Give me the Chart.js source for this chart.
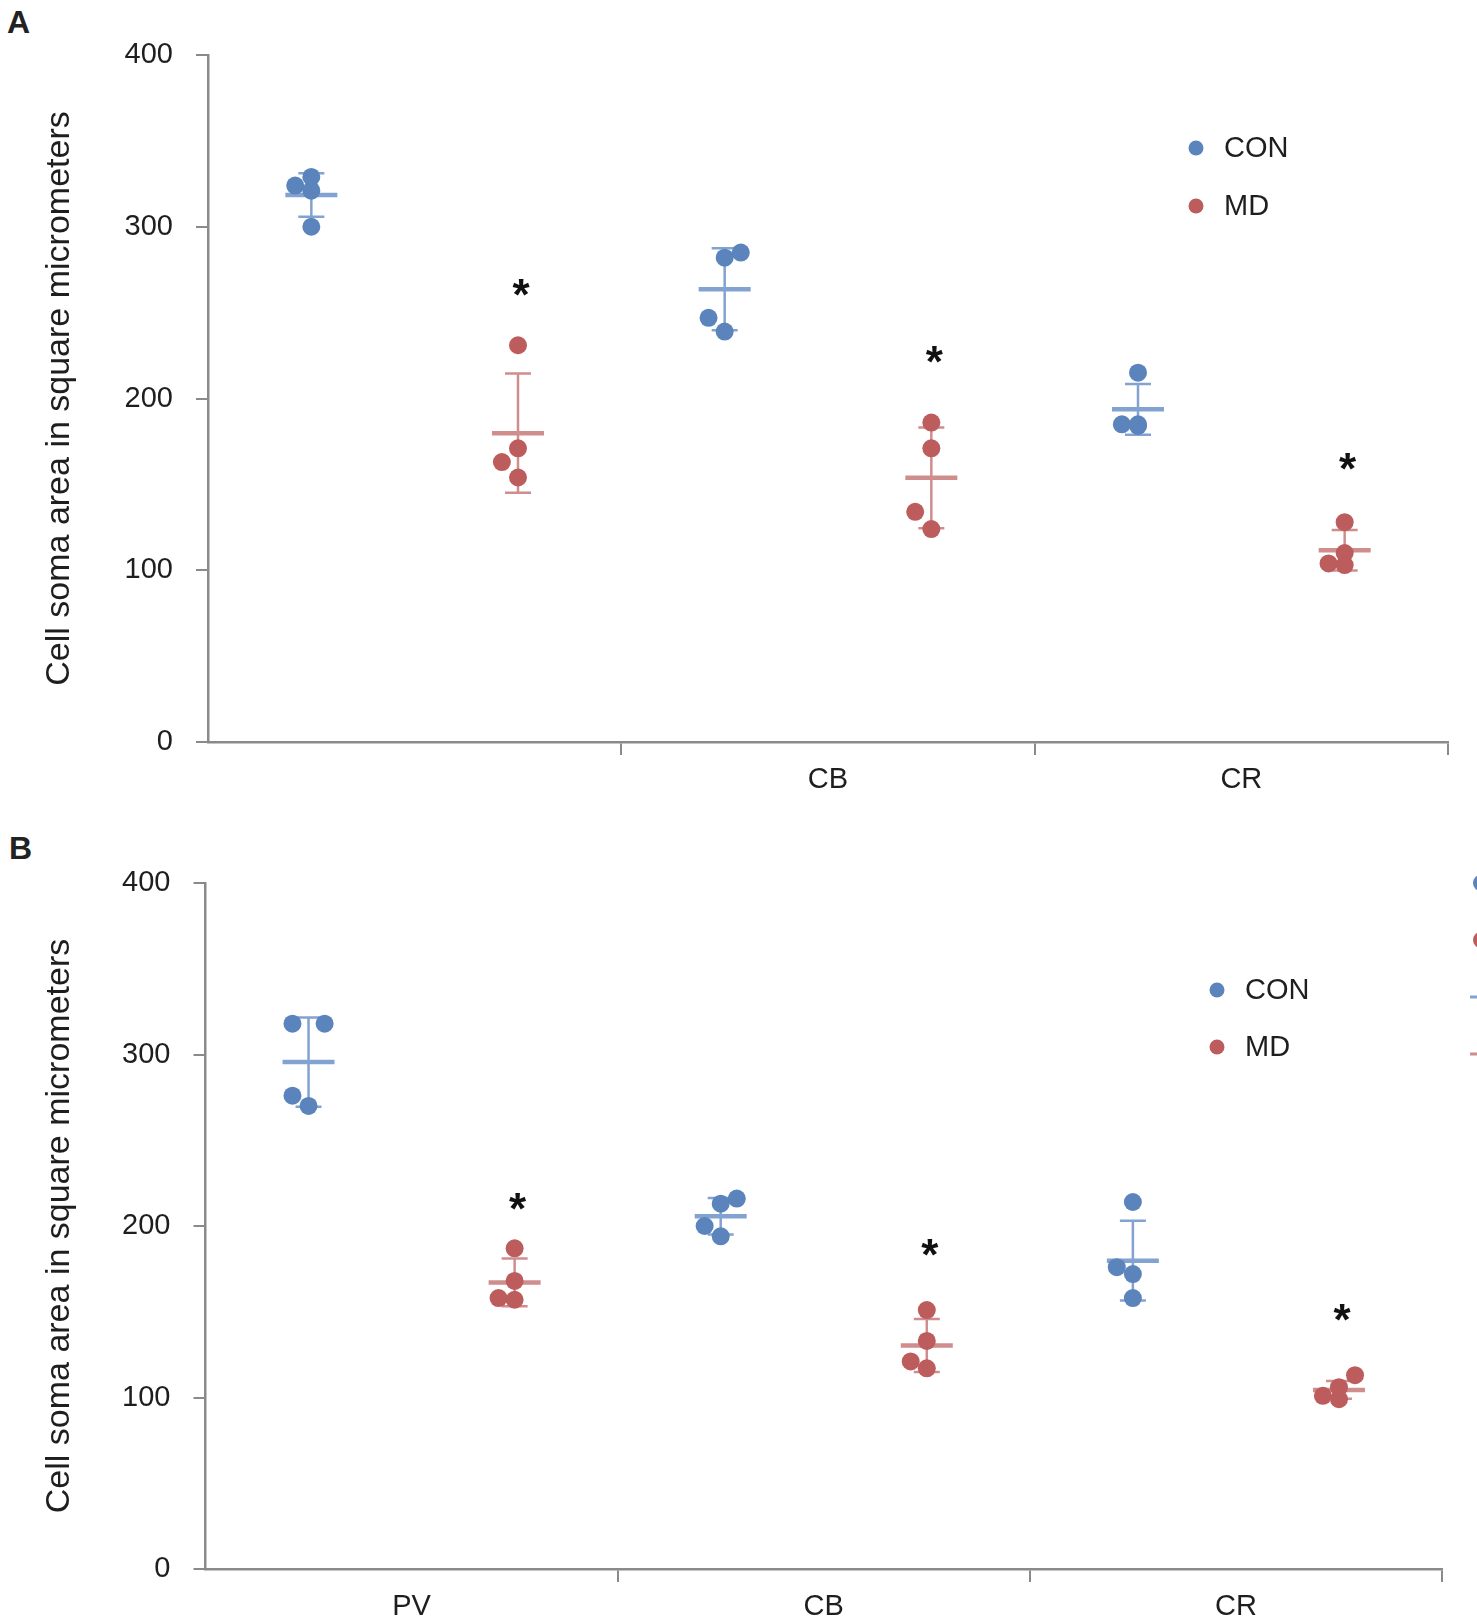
<!DOCTYPE html>
<html><head><meta charset="utf-8">
<script src="https://cdn.jsdelivr.net/npm/chart.js@4.4.1/dist/chart.umd.min.js"></script>
<style>
html,body{margin:0;padding:0;background:#fff}
body{width:1477px;height:1622px;position:relative;overflow:hidden}
.wrap{position:absolute;left:0;width:1477px}
.letter{position:absolute;font:bold 32px "Liberation Sans",Arial,sans-serif;line-height:1;color:#222}
</style></head>
<body>
<div class="letter" style="left:7px;top:6px">A</div>
<div class="letter" style="left:9px;top:832px">B</div>
<div class="wrap" style="top:0;height:800px"><canvas id="cA" width="1477" height="800"></canvas></div>
<div class="wrap" style="top:800px;height:822px"><canvas id="cB" width="1477" height="822"></canvas></div>
<script>
// ---------------- DATA ----------------
const seriesNames = ['CON', 'MD'];
const catA = ['', 'CB', 'CR'];
const catB = ['PV', 'CB', 'CR'];
const yTicks = [0, 100, 200, 300, 400];
const yTitle = 'Cell soma area in square micrometers';

// Panel A individual values (per category: PV, CB, CR)
const A_CON = [[324, 329, 321, 300], [247, 282, 285, 239], [215, 185, 185, 184]];
const A_MD  = [[231, 171, 163, 154], [186, 171, 134, 124], [128, 110, 104, 103]];
const A_CON_MEAN = [318.5, 263.6, 193.7];
const A_CON_SD   = [12.7, 23.9, 14.8];
const A_MD_MEAN  = [179.8, 153.8, 111.6];
const A_MD_SD    = [34.7, 29.3, 11.8];
const A_SIG      = [266, 227, 165];

// Panel B individual values
const B_CON = [[318, 318, 276, 270], [200, 213, 216, 194], [214, 176, 172, 158]];
const B_MD  = [[187, 168, 158, 157], [151, 133, 121, 117], [113, 106, 101, 99]];
const B_CON_MEAN = [295.6, 205.7, 179.8];
const B_CON_SD   = [26.0, 10.6, 23.2];
const B_MD_MEAN  = [167.1, 130.3, 104.4];
const B_MD_SD    = [13.9, 15.4, 5.2];
const B_SIG      = [216, 189, 151];

// ---------------- LAYOUT / STYLE (not data) ----------------
const A_CON_JIT = [[-1, 0, 0, 0], [-1, 0, 1, 0], [0, -1, 0, 0]];
const A_MD_JIT  = [[0, 0, -1, 0], [0, 0, -1, 0], [0, 0, -1, 0]];
const B_CON_JIT = [[-1, 1, -1, 0], [-1, 0, 1, 0], [0, -1, 0, 0]];
const B_MD_JIT  = [[0, 0, -1, 0], [0, 0, -1, 0], [1, 0, -1, 0]];
const JIT_STEP = 0.039;
const COL = { CON: '#5b84bc', MD: '#bd5c5c' };
const BAR = { CON: '#82a3d0', MD: '#d08d8d' };
const FONT = '"Liberation Sans", Arial, sans-serif';
const TXT = '#1e1e1e';
const AXIS = '#8a8a8a';

function pts(vals, jit, off) {
  const out = [];
  vals.forEach((g, i) => g.forEach((v, j) => out.push({ x: i + off + jit[i][j] * JIT_STEP, y: v })));
  return out;
}

const errPlugin = {
  id: 'errbars',
  beforeDatasetsDraw(chart) {
    const o = chart.options.plugins.errbars;
    const xs = chart.scales.x, ys = chart.scales.y, ctx = chart.ctx;
    ctx.save();
    o.groups.forEach(g => {
      g.mean.forEach((m, i) => {
        const px = xs.getPixelForValue(i + g.off);
        const pm = ys.getPixelForValue(m);
        const ph = ys.getPixelForValue(m + g.sd[i]);
        const pl = ys.getPixelForValue(m - g.sd[i]);
        ctx.strokeStyle = g.color;
        ctx.lineWidth = 2.5;
        ctx.beginPath();
        ctx.moveTo(px, ph); ctx.lineTo(px, pl);
        ctx.moveTo(px - 13, ph); ctx.lineTo(px + 13, ph);
        ctx.moveTo(px - 13, pl); ctx.lineTo(px + 13, pl);
        ctx.stroke();
        ctx.lineWidth = 4.5;
        ctx.beginPath();
        ctx.moveTo(px - 26, pm); ctx.lineTo(px + 26, pm);
        ctx.stroke();
      });
    });
    ctx.restore();
  },
  afterDatasetsDraw(chart) {
    const o = chart.options.plugins.errbars;
    const xs = chart.scales.x, ys = chart.scales.y, ctx = chart.ctx;
    ctx.save();
    ctx.fillStyle = '#111';
    ctx.font = 'bold 44px ' + FONT;
    ctx.textAlign = 'center';
    ctx.textBaseline = 'alphabetic';
    o.sig.forEach((v, i) => {
      const px = xs.getPixelForValue(i + 0.75) + 3;
      const py = ys.getPixelForValue(v);
      ctx.fillText('*', px, py + 0.57 * 44);
    });
    // legend
    const L = o.legend;
    ctx.font = '29px ' + FONT;
    ctx.textAlign = 'left';
    ctx.textBaseline = 'middle';
    chart.data.datasets.forEach((ds, i) => {
      const y = L.y + i * L.gap;
      ctx.fillStyle = ds.backgroundColor;
      ctx.beginPath(); ctx.arc(L.x, y, 7.5, 0, Math.PI * 2); ctx.fill();
      ctx.fillStyle = TXT;
      ctx.fillText(ds.label, L.x + 28, y + 1);
    });
    // clipped ghost legend at right edge (panel B)
    if (o.ghost) {
      const G = o.ghost;
      chart.data.datasets.forEach((ds, i) => {
        ctx.fillStyle = ds.backgroundColor;
        ctx.beginPath(); ctx.arc(G.x, G.y + i * G.gap, 8, 0, Math.PI * 2); ctx.fill();
        ctx.strokeStyle = BAR[ds.label];
        ctx.lineWidth = 3;
        ctx.beginPath();
        ctx.moveTo(G.x - 11, G.y + (i + 2) * G.gap); ctx.lineTo(G.x + 8, G.y + (i + 2) * G.gap);
        ctx.stroke();
      });
    }
    ctx.restore();
  }
};

function makeChart(id, cats, con, md, conJ, mdJ, conMean, conSD, mdMean, mdSD, sig, lay) {
  return new Chart(document.getElementById(id), {
    type: 'scatter',
    data: {
      datasets: [
        { label: seriesNames[0], data: pts(con, conJ, 0.25), backgroundColor: COL.CON, borderColor: COL.CON, pointRadius: 9, pointHoverRadius: 9, borderWidth: 0 },
        { label: seriesNames[1], data: pts(md, mdJ, 0.75), backgroundColor: COL.MD, borderColor: COL.MD, pointRadius: 9, pointHoverRadius: 9, borderWidth: 0 }
      ]
    },
    options: {
      responsive: false,
      animation: false,
      devicePixelRatio: 1,
      events: [],
      layout: { padding: { left: lay.padL, top: lay.padT, right: lay.padR, bottom: 0 } },
      plugins: {
        legend: { display: false },
        tooltip: { enabled: false },
        errbars: {
          groups: [
            { mean: conMean, sd: conSD, off: 0.25, color: BAR.CON },
            { mean: mdMean, sd: mdSD, off: 0.75, color: BAR.MD }
          ],
          sig: sig,
          legend: lay.legend,
          ghost: lay.ghost
        }
      },
      scales: {
        x: {
          type: 'linear', min: 0, max: cats.length,
          afterBuildTicks(s) { const t = []; for (let v = 0; v <= cats.length; v += 0.5) t.push({ value: v }); s.ticks = t; },
          afterFit(s) { s.height = lay.xH; },
          ticks: {
            autoSkip: false, maxRotation: 0, padding: 8, color: TXT,
            font: { family: FONT, size: 29 },
            callback(v) { return (v % 1 === 0.5) ? cats[Math.floor(v)] : ''; }
          },
          grid: {
            drawOnChartArea: false, drawTicks: true, tickLength: 13, lineWidth: 2,
            color: AXIS,
            tickColor(ctx) { return (ctx.tick && ctx.tick.value % 1 === 0 && ctx.tick.value > 0) ? AXIS : 'rgba(0,0,0,0)'; }
          },
          border: { display: true, color: AXIS, width: 2.5 }
        },
        y: {
          min: 0, max: 400,
          afterBuildTicks(s) { s.ticks = yTicks.map(v => ({ value: v })); },
          afterFit(s) { s.width = lay.yW; },
          ticks: { padding: 23, color: TXT, font: { family: FONT, size: 29 } },
          grid: { drawOnChartArea: false, drawTicks: true, tickLength: 12, lineWidth: 2, color: AXIS },
          border: { display: true, color: AXIS, width: 2.5 },
          title: { display: true, text: yTitle, color: TXT, font: { family: FONT, size: 34 }, padding: { top: 4, bottom: 4 } }
        }
      }
    },
    plugins: [errPlugin]
  });
}

makeChart('cA', catA, A_CON, A_MD, A_CON_JIT, A_MD_JIT, A_CON_MEAN, A_CON_SD, A_MD_MEAN, A_MD_SD, A_SIG,
  { padL: 35, padT: 55, padR: 29, yW: 173, xH: 58, legend: { x: 1196, y: 148, gap: 58 } });
makeChart('cB', catB, B_CON, B_MD, B_CON_JIT, B_MD_JIT, B_CON_MEAN, B_CON_SD, B_MD_MEAN, B_MD_SD, B_SIG,
  { padL: 35, padT: 83, padR: 35, yW: 170.5, xH: 53, legend: { x: 1217, y: 190, gap: 57 }, ghost: { x: 1481, y: 83, gap: 57 } });
</script>
</body></html>
